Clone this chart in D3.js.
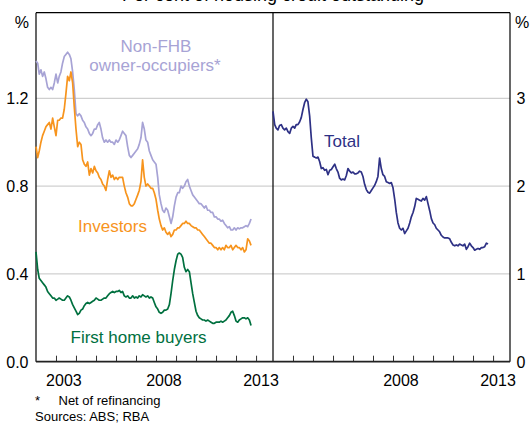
<!DOCTYPE html>
<html>
<head>
<meta charset="utf-8">
<script src="https://d3js.org/d3.v7.min.js"></script>
<style>
    body { margin: 0; background: #fff; }
    svg { display: block; font-family: "Liberation Sans", Arial, sans-serif; }
</style>
</head>
<body>
<div id="chart"></div>
<script>
// monthly data, first point Jan 2002, last point Oct 2012
var firstMonth = "2002-01";

var nonFhb = [1.37, 1.36, 1.31, 1.33, 1.30, 1.32, 1.29, 1.25, 1.24, 1.25,
    1.24, 1.27, 1.31, 1.27, 1.30, 1.32, 1.36, 1.39, 1.40, 1.41,
    1.40, 1.38, 1.32, 1.24, 1.13, 1.12, 1.13, 1.12, 1.10, 1.09,
    1.07, 1.06, 1.04, 1.03, 1.04, 1.06, 1.06, 1.08, 1.09, 1.06,
    1.02, 1.00, 1.01, 1.00, 1.01, 1.00, 1.00, 0.99, 1.01, 1.00,
    1.01, 1.03, 1.05, 1.04, 1.03, 0.98, 0.94, 0.93, 0.94, 0.95,
    0.96, 0.97, 0.99, 1.02, 1.09, 1.06, 1.01, 1.00, 0.96, 0.94,
    0.92, 0.91, 0.90, 0.84, 0.76, 0.72, 0.69, 0.68, 0.70, 0.69,
    0.66, 0.63, 0.66, 0.71, 0.75, 0.77, 0.77, 0.80, 0.79, 0.80,
    0.82, 0.83, 0.80, 0.78, 0.76, 0.75, 0.74, 0.73, 0.72, 0.72,
    0.71, 0.70, 0.71, 0.69, 0.69, 0.68, 0.68, 0.66, 0.66, 0.65,
    0.65, 0.64, 0.645, 0.63, 0.62, 0.61, 0.615, 0.60, 0.60, 0.61,
    0.60, 0.61, 0.605, 0.61, 0.61, 0.615, 0.62, 0.615, 0.63, 0.65];

var investors = [0.98, 0.93, 0.96, 1.00, 1.03, 1.05, 1.07, 1.08, 1.09, 1.06,
    1.11, 1.07, 1.03, 1.10, 1.10, 1.11, 1.11, 1.15, 1.22, 1.30,
    1.28, 1.32, 1.27, 1.16, 1.06, 0.98, 1.00, 0.99, 0.92, 0.90,
    0.89, 0.91, 0.85, 0.88, 0.86, 0.89, 0.87, 0.86, 0.84, 0.83,
    0.81, 0.80, 0.78, 0.83, 0.87, 0.84, 0.85, 0.83, 0.84, 0.83,
    0.84, 0.84, 0.84, 0.80, 0.77, 0.75, 0.72, 0.71, 0.71, 0.72,
    0.74, 0.76, 0.78, 0.82, 0.92, 0.84, 0.80, 0.81, 0.80, 0.79,
    0.79, 0.77, 0.74, 0.69, 0.65, 0.62, 0.60, 0.61, 0.59, 0.58,
    0.59, 0.57, 0.58, 0.60, 0.60, 0.61, 0.61, 0.62, 0.63, 0.63,
    0.64, 0.63, 0.63, 0.62, 0.615, 0.61, 0.61, 0.60, 0.60, 0.59,
    0.58, 0.57, 0.56, 0.55, 0.54, 0.54, 0.53, 0.52, 0.52, 0.51,
    0.52, 0.51, 0.52, 0.51, 0.53, 0.52, 0.52, 0.53, 0.51, 0.52,
    0.53, 0.52, 0.52, 0.51, 0.52, 0.50, 0.51, 0.56, 0.55, 0.53];

var firstHome = [0.50, 0.42, 0.38, 0.37, 0.36, 0.35, 0.34, 0.32, 0.31, 0.30,
    0.29, 0.29, 0.28, 0.285, 0.29, 0.285, 0.28, 0.28, 0.29, 0.30,
    0.295, 0.28, 0.26, 0.245, 0.23, 0.215, 0.22, 0.235, 0.24, 0.255,
    0.265, 0.27, 0.265, 0.27, 0.275, 0.28, 0.29, 0.285, 0.28, 0.28,
    0.285, 0.29, 0.29, 0.30, 0.31, 0.315, 0.32, 0.315, 0.32, 0.32,
    0.325, 0.315, 0.32, 0.30, 0.295, 0.30, 0.29, 0.29, 0.30, 0.29,
    0.295, 0.29, 0.30, 0.295, 0.305, 0.30, 0.295, 0.30, 0.29, 0.295,
    0.29, 0.27, 0.25, 0.24, 0.225, 0.22, 0.225, 0.235, 0.235, 0.24,
    0.26, 0.31, 0.37, 0.42, 0.46, 0.49, 0.495, 0.49, 0.475, 0.43,
    0.41, 0.42, 0.41, 0.36, 0.31, 0.27, 0.23, 0.21, 0.20, 0.195,
    0.19, 0.19, 0.185, 0.19, 0.185, 0.18, 0.175, 0.175, 0.18, 0.18,
    0.18, 0.185, 0.18, 0.185, 0.19, 0.20, 0.21, 0.225, 0.23, 0.21,
    0.185, 0.18, 0.19, 0.195, 0.20, 0.20, 0.195, 0.20, 0.19, 0.165];

var total = [2.85, 2.70, 2.66, 2.64, 2.69, 2.70, 2.66, 2.64, 2.66, 2.62,
    2.60, 2.66, 2.68, 2.66, 2.70, 2.70, 2.73, 2.78, 2.87, 2.95,
    2.99, 2.96, 2.80, 2.55, 2.34, 2.33, 2.32, 2.33, 2.28, 2.20,
    2.21, 2.18, 2.19, 2.13, 2.18, 2.19, 2.22, 2.25, 2.20, 2.16,
    2.09, 2.07, 2.08, 2.07, 2.12, 2.20, 2.17, 2.15, 2.16, 2.14,
    2.14, 2.15, 2.17, 2.16, 2.11, 2.02, 1.96, 1.93, 1.92, 1.95,
    1.98, 2.01, 2.05, 2.11, 2.32, 2.20, 2.13, 2.11, 2.05, 2.04,
    2.03, 2.04, 1.98, 1.85, 1.70, 1.58, 1.52, 1.50, 1.52, 1.46,
    1.49, 1.52, 1.58, 1.65, 1.70, 1.77, 1.86, 1.85, 1.84, 1.83,
    1.86, 1.84, 1.88, 1.80, 1.72, 1.63, 1.58, 1.56, 1.52, 1.50,
    1.48, 1.44, 1.42, 1.41, 1.41, 1.41, 1.40, 1.36, 1.33, 1.32,
    1.33, 1.32, 1.34, 1.33, 1.32, 1.34, 1.28, 1.31, 1.35, 1.32,
    1.30, 1.27, 1.28, 1.29, 1.28, 1.30, 1.30, 1.31, 1.35, 1.34];

var leftTicks = [0, 0.4, 0.8, 1.2];
var rightTicks = [0, 1, 2, 3];
var leftYearLabels = [2003, 2008, 2013];
var rightYearLabels = [2008, 2013];

var width = 532,
    height = 423;

var svg = d3.select("#chart").append("svg")
    .attr("width", width)
    .attr("height", height);

svg.append("rect")
    .attr("width", width)
    .attr("height", height)
    .attr("fill", "#fff");

// panels: left = borrower types, right = total
var plotTop = 12.7, plotBottom = 361.7;
var xLeft = d3.scaleTime()
    .domain([new Date(2002, 0, 1), new Date(2013, 10, 6)])
    .range([36, 273]);
var xRight = xLeft.copy().range([273, 510]);

var yLeft = d3.scaleLinear().domain([0, 1.59]).range([plotBottom, plotTop]);
var yRight = d3.scaleLinear().domain([0, 3.975]).range([plotBottom, plotTop]);

var parseMonth = d3.timeParse("%Y-%m");
var start = parseMonth(firstMonth);

function toPoints(values) {
    return values.map(function (v, i) {
        return { date: d3.timeMonth.offset(start, i), value: v };
    });
}

// title, mostly cut off at the top
svg.append("text")
    .attr("x", 273)
    .attr("y", 1)
    .attr("text-anchor", "middle")
    .attr("font-size", 18)
    .attr("fill", "#000")
    .text("Per cent of housing credit outstanding");

// gridlines
svg.append("g")
    .selectAll("line")
    .data(leftTicks.filter(function (d) { return d > 0; }))
    .enter().append("line")
    .attr("x1", 36)
    .attr("x2", 510)
    .attr("y1", function (d) { return yLeft(d); })
    .attr("y2", function (d) { return yLeft(d); })
    .attr("stroke", "#c4c4c4")
    .attr("stroke-width", 1);

// frame
var frame = svg.append("g").attr("stroke", "#000").attr("stroke-width", 1.2);
frame.append("line").attr("x1", 36).attr("x2", 510).attr("y1", plotTop).attr("y2", plotTop);
frame.append("line").attr("x1", 36).attr("x2", 36).attr("y1", plotTop).attr("y2", plotBottom);
frame.append("line").attr("x1", 273).attr("x2", 273).attr("y1", plotTop).attr("y2", plotBottom);
frame.append("line").attr("x1", 510).attr("x2", 510).attr("y1", plotTop).attr("y2", plotBottom);

// x axes with inward ticks
var years = d3.timeYear.range(new Date(2003, 0, 1), new Date(2013, 1, 1));
[[xLeft, leftYearLabels], [xRight, rightYearLabels]].forEach(function (p) {
    var x = p[0];
    svg.append("g")
        .attr("transform", "translate(0," + plotBottom + ")")
        .call(d3.axisBottom(x).tickValues(years).tickSize(-6).tickFormat(""))
        .call(function (g) {
            g.select(".domain").remove();
            g.selectAll("line").attr("stroke", "#333").attr("stroke-width", 1);
        });

    svg.append("g")
        .selectAll("text")
        .data(p[1])
        .enter().append("text")
        .attr("x", function (d) {
            var shift = d == 2013 ? -5 : -2;
            return x(new Date(d, 6, 1)) + shift;
        })
        .attr("y", 385.5)
        .attr("text-anchor", "middle")
        .attr("font-size", 16)
        .attr("fill", "#000")
        .text(function (d) { return d; });
});

svg.append("line")
    .attr("x1", 36).attr("x2", 510)
    .attr("y1", plotBottom).attr("y2", plotBottom)
    .attr("stroke", "#222")
    .attr("stroke-width", 1.8);

// y tick labels
svg.append("g")
    .selectAll("text")
    .data(leftTicks)
    .enter().append("text")
    .attr("x", 28.5)
    .attr("y", function (d) { return yLeft(d) + 6; })
    .attr("text-anchor", "end")
    .attr("font-size", 16)
    .text(function (d) { return d3.format(".1f")(d); });

svg.append("g")
    .selectAll("text")
    .data(rightTicks)
    .enter().append("text")
    .attr("x", 516.5)
    .attr("y", function (d) { return yRight(d) + 6; })
    .attr("text-anchor", "start")
    .attr("font-size", 16)
    .text(function (d) { return d; });

svg.append("text").attr("x", 29).attr("y", 28).attr("text-anchor", "end")
    .attr("font-size", 16).text("%");
svg.append("text").attr("x", 515).attr("y", 28).attr("text-anchor", "start")
    .attr("font-size", 16).text("%");

// series lines
var lineLeft = d3.line()
    .x(function (d) { return xLeft(d.date); })
    .y(function (d) { return yLeft(d.value); });
var lineRight = d3.line()
    .x(function (d) { return xRight(d.date); })
    .y(function (d) { return yRight(d.value); });

var series = [
    { values: nonFhb, color: "#a7a3d5", line: lineLeft },
    { values: investors, color: "#f7941d", line: lineLeft },
    { values: firstHome, color: "#00703f", line: lineLeft },
    { values: total, color: "#2e3185", line: lineRight }
];

series.forEach(function (s) {
    svg.append("path")
        .datum(toPoints(s.values))
        .attr("d", s.line)
        .attr("fill", "none")
        .attr("stroke", s.color)
        .attr("stroke-width", 1.7)
        .attr("stroke-linejoin", "round");
});

// series labels
var labels = [
    { text: "Non-FHB", x: 156, y: 51.5, color: "#a7a3d5", anchor: "middle" },
    { text: "owner-occupiers*", x: 155, y: 71, color: "#a7a3d5", anchor: "middle" },
    { text: "Investors", x: 78, y: 231.5, color: "#f7941d", anchor: "start" },
    { text: "First home buyers", x: 70.5, y: 342.5, color: "#00703f", anchor: "start" },
    { text: "Total", x: 324, y: 146.5, color: "#2e3185", anchor: "start" }
];

svg.append("g")
    .selectAll("text")
    .data(labels)
    .enter().append("text")
    .attr("x", function (d) { return d.x; })
    .attr("y", function (d) { return d.y; })
    .attr("text-anchor", function (d) { return d.anchor; })
    .attr("font-size", 17)
    .attr("fill", function (d) { return d.color; })
    .text(function (d) { return d.text; });

// footnotes
svg.append("text").attr("x", 35).attr("y", 405).attr("font-size", 13).text("*");
svg.append("text").attr("x", 58.5).attr("y", 405).attr("font-size", 13).text("Net of refinancing");
svg.append("text").attr("x", 35).attr("y", 420.5).attr("font-size", 13).text("Sources: ABS; RBA");
</script>
</body>
</html>
